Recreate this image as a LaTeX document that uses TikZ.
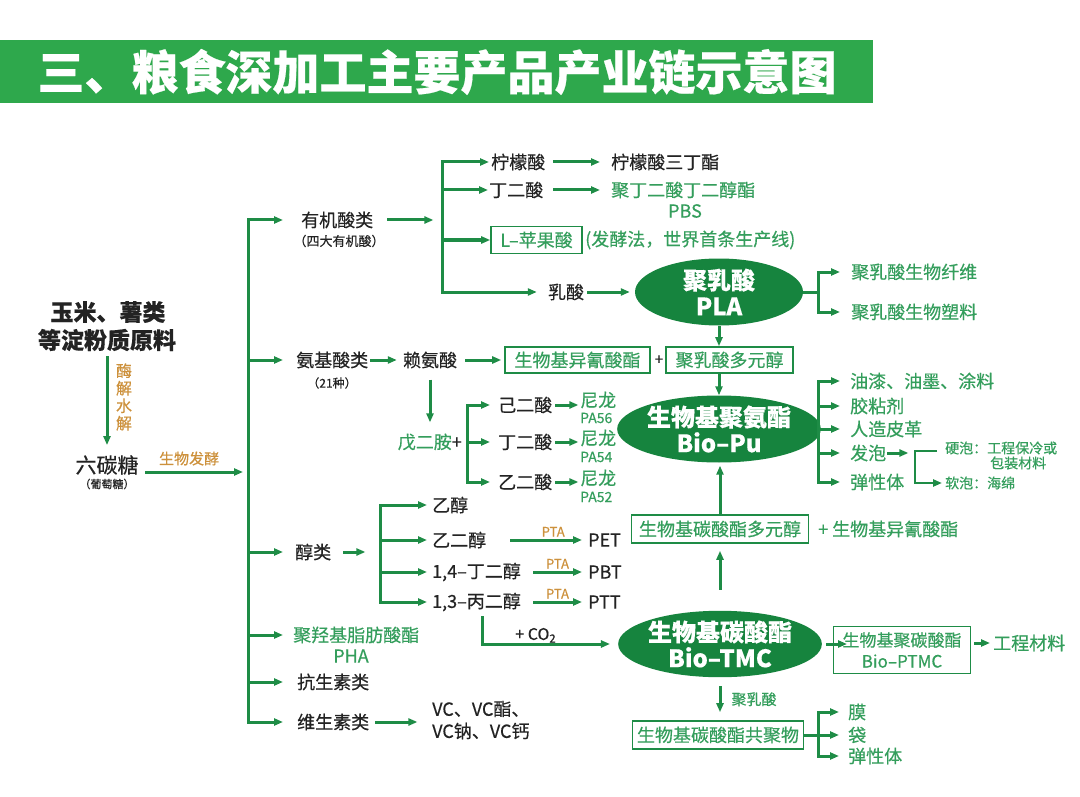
\documentclass[tikz,border=0pt]{standalone}
\usepackage{fontspec}
\setmainfont{Noto Sans CJK SC}[FakeBold=0.4]
\usetikzlibrary{shapes.geometric,arrows.meta}
\definecolor{lg}{RGB}{30,140,70}
\definecolor{gt}{RGB}{52,158,92}
\definecolor{eg}{RGB}{22,132,62}
\definecolor{tg}{RGB}{46,168,76}
\definecolor{og}{RGB}{205,145,60}
\definecolor{tk}{RGB}{35,35,35}
\newcommand{\myfs}[1]{\fontsize{#1}{#1}\selectfont}
\tikzset{
  ln/.style={draw=lg, line width=3pt},
  arr/.style={ln, -{Triangle[length=9pt,width=7pt]}},
  txt/.style={inner sep=0pt, text=tk, font=\myfs{18}},
  gtx/.style={txt, text=gt},
  otx/.style={inner sep=0pt, text=og, font=\myfs{15}},
  bx/.style={draw=lg, line width=1.6pt, inner sep=0pt, text=gt, font=\myfs{18}},
  ell/.style={ellipse, fill=eg, text=white, inner sep=0pt, minimum width=168pt, minimum height=67pt, font=\bfseries\fontsize{24}{26}\selectfont, align=center},
}
\begin{document}
\begin{tikzpicture}[x=1pt,y=-1pt]
\useasboundingbox[fill=white] (0,0) rectangle (1080,797);
% title
\fill[tg] (0,40) rectangle (873,103);
\node[inner sep=0pt, text=white, font=\bfseries\myfs{47}] (title) at (437,72) {三、粮食深加工主要产品产业链示意图};

% source
\node[txt, font=\bfseries\myfs{23}] (raw1) at (108,312) {玉米、薯类};
\node[txt, font=\bfseries\myfs{23}] (raw2) at (107,340) {等淀粉质原料};
\node[txt, font=\myfs{21}] (hex) at (107,465) {六碳糖};
\node[txt, font=\myfs{11}] (glu) at (107,484) {（葡萄糖）};
\node[otx, align=center, font=\fontsize{16}{17.5}\selectfont] (enz) at (124,397) {酶\\解\\水\\解};
\draw[arr] ([yshift=-5pt]raw2.south) -- ([yshift=10pt]hex.north);

% main trunk
\coordinate (T1t) at (248,220);
\coordinate (T1b) at (248,722);
\draw[ln, line cap=rect] (T1t) -- (T1b);
\coordinate (F0) at (145,472);
\coordinate (F1) at (243,472);
\draw[arr] (F0) -- node[otx, pos=0.45, above=5pt] (fer) {生物发酵} (F1);

% level 1
\node[txt, anchor=west] (org) at (301,220) {有机酸类};
\node[txt, font=\myfs{13}] (orgs) at (339,241) {（四大有机酸）};
\node[txt, anchor=west] (ami) at (296,360) {氨基酸类};
\node[txt, font=\myfs{12}] (amis) at (332,383) {（21种）};
\node[txt, anchor=west] (alc) at (295,552) {醇类};
\node[gtx, anchor=west] (pha) at (293,635) {聚羟基脂肪酸酯};
\node[gtx] (phas) at (351,656) {PHA};
\node[txt, anchor=west] (anti) at (297,682) {抗生素类};
\node[txt, anchor=west] (vit) at (297,722) {维生素类};
\draw[arr] (T1t |- org) -- ([xshift=-18pt]org.west);
\draw[arr] (T1t |- ami) -- ([xshift=-13pt]ami.west);
\draw[arr] (T1t |- alc) -- ([xshift=-12pt]alc.west);
\draw[arr] (T1t |- pha) -- ([xshift=-10pt]pha.west);
\draw[arr] (T1t |- anti) -- ([xshift=-14pt]anti.west);
\draw[arr] (T1b) -- ([xshift=-14pt]vit.west);

% organic acids
\coordinate (T2t) at (442,162);
\coordinate (T2b) at (442,292);
\draw[ln, line cap=rect] (T2t) -- (T2b);
\draw[arr] ([xshift=14pt]org.east) -- +(46,0);
\node[txt, anchor=west] (cit) at (491,162) {柠檬酸};
\node[txt, anchor=west] (suc) at (489,190) {丁二酸};
\node[bx, minimum width=91pt, minimum height=27pt] (mal) at (536.5,240) {L–苹果酸};
\node[gtx, anchor=west] (malt) at (585,240) {(发酵法，世界首条生产线)};
\node[txt] (lac) at (566,292) {乳酸};
\draw[arr] (T2t) -- ([xshift=-2pt]cit.west);
\draw[arr] (T2t |- suc) -- ([xshift=-1pt]suc.west);
\draw[arr] (T2t |- mal) -- (mal.west);
\draw[arr] (T2b) -- ([xshift=-11pt]lac.west);
\node[txt, anchor=west] (cite) at (611,162) {柠檬酸三丁酯};
\node[gtx, anchor=west] (pbs) at (611,190) {聚丁二酸丁二醇酯};
\node[gtx] (pbs2) at (685,211) {PBS};
\draw[arr] ([xshift=8pt]cit.east) -- ([xshift=-11pt]cite.west);
\draw[arr] ([xshift=10pt]suc.east) -- ([xshift=-11pt]pbs.west);

% PLA
\node[ell] (pla) at (719,292) {聚乳酸\\PLA};
\draw[arr] ([xshift=3pt]lac.east) -- ([xshift=-5pt]pla.west);
\coordinate (B1) at (818,292);
\node[gtx, anchor=west] (fib) at (851,272) {聚乳酸生物纤维};
\node[gtx, anchor=west] (plas) at (851,312) {聚乳酸生物塑料};
\draw[ln] (pla.east) -- (B1);
\draw[arr] (B1) |- ([xshift=-11pt]fib.west);
\draw[arr] (B1) |- ([xshift=-11pt]plas.west);

% amino acids
\node[txt] (lys) at (430,360) {赖氨酸};
\draw[arr] ([xshift=2pt]ami.east) -- ([xshift=-6pt]lys.west);
\node[bx, minimum width=145pt, minimum height=26pt] (iso) at (577.5,360) {生物基异氰酸酯};
\node[txt, font=\myfs{15}] (plus1) at (659,360) {+};
\node[bx, minimum width=127pt, minimum height=26pt] (plap) at (729.5,360) {聚乳酸多元醇};
\draw[arr] ([xshift=8pt]lys.east) -- ([xshift=-3pt]iso.west);
\coordinate (plapN) at (pla.south |- plap.north);
\draw[arr] (pla.south) -- (plapN);

% Bio-Pu
\node[ell] (pu) at (719,429) {生物基聚氨酯\\Bio–Pu};
\coordinate (plapS) at (pla.south |- plap.south);
\draw[arr] (plapS) -- (pu.north);

% pentanediamine
\node[txt, anchor=east] (pda) at (462,442) {\textcolor{gt}{戊二胺}+};
\coordinate (pdaN) at (lys.south |- pda.north);
\draw[arr] ([yshift=-11pt]lys.south) -- ([yshift=11pt]pdaN);
\coordinate (B2) at (467,442);
\node[txt, anchor=west] (adi) at (498,405) {己二酸};
\node[txt, anchor=west] (suc2) at (498,442) {丁二酸};
\node[txt, anchor=west] (oxa) at (498,482) {乙二酸};
\draw[ln, line cap=rect] (B2 |- adi) -- (B2 |- oxa);
\draw[arr] (B2 |- adi) -- ([xshift=-8pt]adi.west);
\draw[arr] (B2) -- ([xshift=-8pt]suc2.west);
\draw[arr] (B2 |- oxa) -- ([xshift=-8pt]oxa.west);
\node[gtx, anchor=west] (ny1) at (580,400) {尼龙};
\node[gtx, anchor=west, font=\myfs{14}] (pa56) at (580,418) {PA56};
\node[gtx, anchor=west] (ny2) at (580,438) {尼龙};
\node[gtx, anchor=west, font=\myfs{14}] (pa54) at (580,457) {PA54};
\node[gtx, anchor=west] (ny3) at (580,478) {尼龙};
\node[gtx, anchor=west, font=\myfs{14}] (pa52) at (580,497) {PA52};
\draw[arr] ([xshift=3pt]adi.east) -- +(23,0);
\draw[arr] ([xshift=3pt]suc2.east) -- +(23,0);
\draw[arr] ([xshift=3pt]oxa.east) -- +(23,0);

% Bio-Pu products
\coordinate (B3) at (818,429);
\draw[ln] (pu.east) -- (B3);
\node[gtx, anchor=west] (paint) at (850,381) {油漆、油墨、涂料};
\node[gtx, anchor=west] (glue) at (850,406) {胶粘剂};
\node[gtx, anchor=west] (leat) at (850,429) {人造皮革};
\node[gtx, anchor=west] (foam) at (850,453) {发泡};
\node[gtx, anchor=west] (el1) at (850,482) {弹性体};
\draw[arr] (B3) |- ([xshift=-10pt]paint.west);
\draw[arr] (B3) |- ([xshift=-10pt]glue.west);
\draw[arr] (B3) -- ([xshift=-10pt]leat.west);
\draw[arr] (B3) |- ([xshift=-10pt]foam.west);
\draw[arr] (B3) |- ([xshift=-10pt]el1.west);
\draw[arr] ([xshift=1pt]foam.east) -- +(21,0);
\node[gtx, anchor=west, font=\myfs{14}] (hard) at (945,448) {硬泡：工程保冷或};
\node[gtx, anchor=west, font=\myfs{14}] (hard2) at (990,463) {包装材料};
\node[gtx, anchor=west, font=\myfs{14}] (soft) at (945,483) {软泡：海绵};
\coordinate (B4) at (915,451);
\draw[arr, line width=2.5pt] ([xshift=22pt]B4) -- (B4) |- ([xshift=-3pt]soft.west);

% alcohols
\coordinate (T3t) at (380,505);
\coordinate (T3b) at (380,602);
\draw[ln, line cap=rect] (T3t) -- (T3b);
\draw[arr] ([xshift=12pt]alc.east) -- +(22,0);
\node[txt, anchor=west] (eth) at (432,505) {乙醇};
\node[txt, anchor=west] (egl) at (432,540) {乙二醇};
\node[txt, anchor=west] (bdo) at (432,572) {1,4–丁二醇};
\node[txt, anchor=west] (pdo) at (432,602) {1,3–丙二醇};
\draw[arr] (T3t) -- ([xshift=-5pt]eth.west);
\draw[arr] (T3t |- egl) -- ([xshift=-5pt]egl.west);
\draw[arr] (T3t |- bdo) -- ([xshift=-5pt]bdo.west);
\draw[arr] (T3b) -- ([xshift=-5pt]pdo.west);
\node[txt, anchor=west] (pet) at (588,540) {PET};
\node[txt, anchor=west] (pbt) at (588,572) {PBT};
\node[txt, anchor=west] (ptt) at (588,602) {PTT};
\draw[arr] ([xshift=-78pt]pet.west) -- node[otx, font=\myfs{13}, pos=0.6, above=2pt] (pta1) {PTA} ([xshift=-6pt]pet.west);
\draw[arr] ([xshift=-55pt]pbt.west) -- node[otx, font=\myfs{13}, above=2pt] (pta2) {PTA} ([xshift=-6pt]pbt.west);
\draw[arr] ([xshift=-55pt]ptt.west) -- node[otx, font=\myfs{13}, above=2pt] (pta3) {PTA} ([xshift=-6pt]ptt.west);

% Bio-TMC
\node[ell, minimum height=60pt] (tmc) at (720,644) {生物基碳酸酯\\Bio–TMC};
\coordinate (C0) at (482,616);
\draw[arr] (C0) |- node[txt, font=\myfs{16}, pos=0.71, above=0pt] (co2) {+ CO\textsubscript{2}} ([xshift=-8pt]tmc.west);
\node[bx, minimum width=177pt, minimum height=28pt] (poly) at (720,529) {生物基碳酸酯多元醇};
\node[gtx, anchor=west] (piso) at (818,529) {+ 生物基异氰酸酯};
\draw[arr] ([yshift=21pt]tmc.north) -- ([yshift=-7pt]poly.south);
\coordinate (puS) at (poly.north |- pu.south);
\draw[arr] (poly.north) -- ([yshift=-3pt]puS);
\node[bx, minimum width=137pt, minimum height=47pt, align=center, font=\fontsize{17}{21}\selectfont] (ptmc) at (902,650) {生物基聚碳酸酯\\Bio–PTMC};
\draw[arr] ([xshift=4pt]tmc.east) -- +(21,0);
\node[gtx, anchor=west] (eng) at (993,643) {工程材料};
\draw[arr] ([xshift=-19pt]eng.west) -- ([xshift=-3pt]eng.west);

% copolymer
\node[bx, minimum width=171pt, minimum height=28pt] (cop) at (718,735) {生物基碳酸酯共聚物};
\coordinate (copN) at (tmc.south |- cop.north);
\draw[arr] ([yshift=-9pt]tmc.south) -- node[gtx, font=\myfs{15}, right=10pt] (pla3) {聚乳酸} ([yshift=8pt]copN);
\coordinate (B5) at (818,735);
\draw[ln] (cop.east) -- (B5);
\node[gtx, anchor=west] (mo) at (848,712) {膜};
\node[gtx, anchor=west] (dai) at (848,735) {袋};
\node[gtx, anchor=west] (el2) at (848,756) {弹性体};
\draw[arr] (B5) |- ([xshift=-9pt]mo.west);
\draw[arr] (B5) -- ([xshift=-9pt]dai.west);
\draw[arr] (B5) |- ([xshift=-9pt]el2.west);

% vitamins
\node[txt, anchor=west] (vc1) at (432,709) {VC、VC酯、};
\node[txt, anchor=west] (vc2) at (432,731) {VC钠、VC钙};
\draw[arr] ([xshift=6pt]vit.east) -- +(42,0);
\end{tikzpicture}
\end{document}
